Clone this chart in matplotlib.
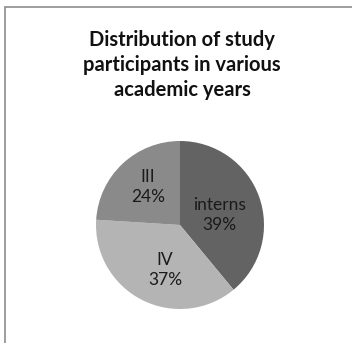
import matplotlib.pyplot as plt
from matplotlib.patches import Rectangle

labels = ["interns", "IV", "III"]
shares = [39, 37, 24]
colors = ["#636363", "#b4b4b4", "#8a8a8a"]
title = "Distribution of study\nparticipants in various\nacademic years"

W, H = 352, 343
fig = plt.figure(figsize=(W / 100, H / 100), dpi=100)
plt.rcParams['font.family'] = ['Lato', 'DejaVu Sans']

# chart frame (only top and left edges visible in the crop)
fig.patches.append(Rectangle((5 / W, -0.1), 1.2, (H - 7) / H + 0.1, transform=fig.transFigure,
                             fill=False, edgecolor="#8c8c8c", linewidth=1.2))

fig.text(182 / W, 1 - 65 / H, title, ha="center", va="center", fontsize=14.5,
         fontweight="bold", linespacing=1.3, color="#111111")

# pie axes: center (180, 225), radius ~84
cx, cy, r = 180, 225, 84
ax = fig.add_axes([(cx - r) / W, 1 - (cy + r) / H, 2 * r / W, 2 * r / H])
wedges, _ = ax.pie(shares, colors=colors, startangle=90, counterclock=False,
                   radius=1.0, wedgeprops=dict(linewidth=0))
ax.set_xlim(-1, 1)
ax.set_ylim(-1, 1)
ax.set_aspect("auto")
ax.axis("off")

label_pos = [(0.47, 0.12), (-0.18, -0.54), (-0.38, 0.45)]
for lab, s, (x, y) in zip(labels, shares, label_pos):
    ax.text(x, y, f"{lab}\n{s}%", ha="center", va="center", fontsize=12.5,
            color="#1a1a1a", linespacing=1.3)

fig.savefig("out.png", dpi=100)
